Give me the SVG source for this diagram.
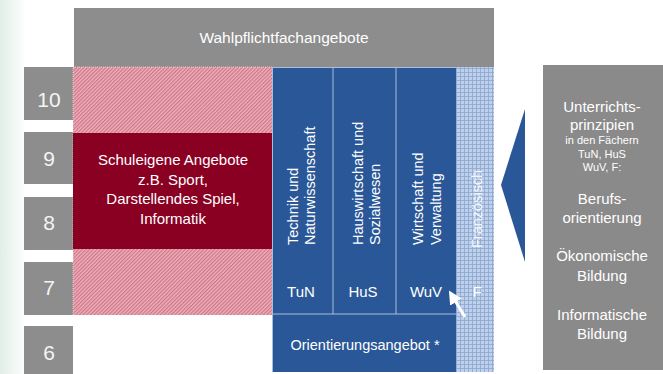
<svg xmlns="http://www.w3.org/2000/svg" width="663" height="374" viewBox="0 0 663 374">
<defs>
<linearGradient id="bgGrad" x1="0" y1="0" x2="1" y2="0">
<stop offset="0" stop-color="#e1eee6"/>
<stop offset="1" stop-color="#ffffff"/>
</linearGradient>
<pattern id="hatch" width="2.6" height="2.6" patternUnits="userSpaceOnUse" patternTransform="rotate(45)">
<rect width="2.6" height="2.6" fill="#eab0ba"/>
<line x1="0.6" y1="0" x2="0.6" y2="2.6" stroke="#cf6a80" stroke-width="1"/>
</pattern>
<pattern id="grid" width="4" height="4" patternUnits="userSpaceOnUse">
<rect width="4" height="4" fill="#bfd0ea"/>
<path d="M0,0.5 H4 M0.5,0 V4" stroke="#8aa6d0" stroke-width="0.8"/>
</pattern>
<marker id="wArrow" viewBox="0 0 10 10" refX="7" refY="5" markerWidth="4.5" markerHeight="4.5" orient="auto">
<path d="M0,0 L10,5 L0,10 Z" fill="#ffffff"/>
</marker>
<style>
.t{font-family:"Liberation Sans",Arial,sans-serif;fill:#ffffff;}
.num{font-size:21px;text-anchor:middle;fill:#f4f4f4;}
.m{font-size:15px;}
.c{text-anchor:middle;}
.gray{fill:#8d8d8d;}
.blue{fill:#2a5797;}
.div{stroke:#a9bedb;stroke-width:1;fill:none;}
</style>
</defs>
<rect width="663" height="374" fill="#ffffff"/>
<rect x="0" y="0" width="26" height="374" fill="url(#bgGrad)"/>

<g id="header">
<rect class="gray" x="74" y="8" width="420" height="59"/>
<text class="t m c" x="284" y="43" style="font-size:15.5px">Wahlpflichtfachangebote</text>
</g>

<g id="grade10"><rect class="gray" x="24" y="67" width="49" height="53"/><text class="t num" x="49" y="107">10</text></g>
<g id="grade9"><rect class="gray" x="24" y="132" width="49" height="52"/><text class="t num" x="49" y="166">9</text></g>
<g id="grade8"><rect class="gray" x="24" y="197" width="49" height="53"/><text class="t num" x="49" y="230">8</text></g>
<g id="grade7"><rect class="gray" x="24" y="262" width="49" height="53"/><text class="t num" x="49" y="295">7</text></g>
<g id="grade6"><rect class="gray" x="24" y="326" width="49" height="48"/><text class="t num" x="49" y="360">6</text></g>

<g id="schuleigene">
<rect x="73" y="67" width="200" height="66" fill="url(#hatch)"/>
<rect x="73" y="249" width="200" height="66" fill="url(#hatch)"/>
<path d="M73,315 V67 H273" fill="none" stroke="#ffffff" stroke-width="0.8" stroke-dasharray="1,1" opacity="0.7"/>
<rect x="73" y="133" width="200" height="116" fill="#8a0022"/>
<text class="t m c" x="173" y="165">Schuleigene Angebote</text>
<text class="t m c" x="173" y="184.5">z.B. Sport,</text>
<text class="t m c" x="173" y="204">Darstellendes Spiel,</text>
<text class="t m c" x="173" y="223.5">Informatik</text>
</g>

<g id="tun">
<rect class="blue" x="273" y="67" width="60" height="247"/>
<text class="t" transform="translate(298,245) rotate(-90)" style="font-size:14.5px">Technik und</text>
<text class="t" transform="translate(315,245) rotate(-90)" style="font-size:14.5px">Naturwissenschaft</text>
<text class="t m c" x="301" y="297">TuN</text>
</g>

<g id="hus">
<rect class="blue" x="333" y="67" width="63" height="247"/>
<text class="t" transform="translate(363,245) rotate(-90)" style="font-size:14.5px">Hauswirtschaft und</text>
<text class="t" transform="translate(380,245) rotate(-90)" style="font-size:14.5px">Sozialwesen</text>
<text class="t m c" x="363" y="297">HuS</text>
</g>

<g id="wuv">
<rect class="blue" x="396" y="67" width="60" height="247"/>
<text class="t" transform="translate(423,245) rotate(-90)" style="font-size:14.5px">Wirtschaft und</text>
<text class="t" transform="translate(441,245) rotate(-90)" style="font-size:14.5px">Verwaltung</text>
<text class="t m c" x="426" y="297">WuV</text>
</g>

<g id="orientierung">
<rect class="blue" x="273" y="314" width="183" height="58"/>
<text class="t c" x="365" y="350" style="font-size:14.5px">Orientierungsangebot *</text>
</g>

<g id="franzoesisch">
<rect x="456" y="67" width="38" height="305" fill="url(#grid)"/>
<text class="t" transform="translate(482,248) rotate(-90)" style="font-size:14.5px" opacity="0.9">Französisch</text>
<text class="t m c" x="477" y="297">F</text>
</g>

<g id="dividers">
<path class="div" d="M273,67.5 H456 M272.5,67 V372 M333,67 V314 M396,67 V314 M273,314 H456"/>
</g>

<g id="pointer">
<path d="M525,109 L501,185 L525,262 Z" fill="#2a5797"/>
</g>

<g id="prinzipien">
<rect x="543" y="65" width="120" height="305" fill="#8a8a8a"/>
<text class="t m c" x="602" y="112">Unterrichts-</text>
<text class="t m c" x="602" y="130">prinzipien</text>
<text class="t c" x="602" y="144" style="font-size:11px">in den Fächern</text>
<text class="t c" x="602" y="158" style="font-size:11px">TuN, HuS</text>
<text class="t c" x="602" y="171" style="font-size:11px">WuV, F:</text>
<text class="t m c" x="602" y="204">Berufs-</text>
<text class="t m c" x="602" y="223">orientierung</text>
<text class="t m c" x="602" y="261">Ökonomische</text>
<text class="t m c" x="602" y="281">Bildung</text>
<text class="t m c" x="602" y="320">Informatische</text>
<text class="t m c" x="602" y="339">Bildung</text>
</g>

<g id="connectors">
<line x1="465" y1="317" x2="451" y2="294" stroke="#ffffff" stroke-width="3" marker-end="url(#wArrow)"/>
</g>
</svg>
